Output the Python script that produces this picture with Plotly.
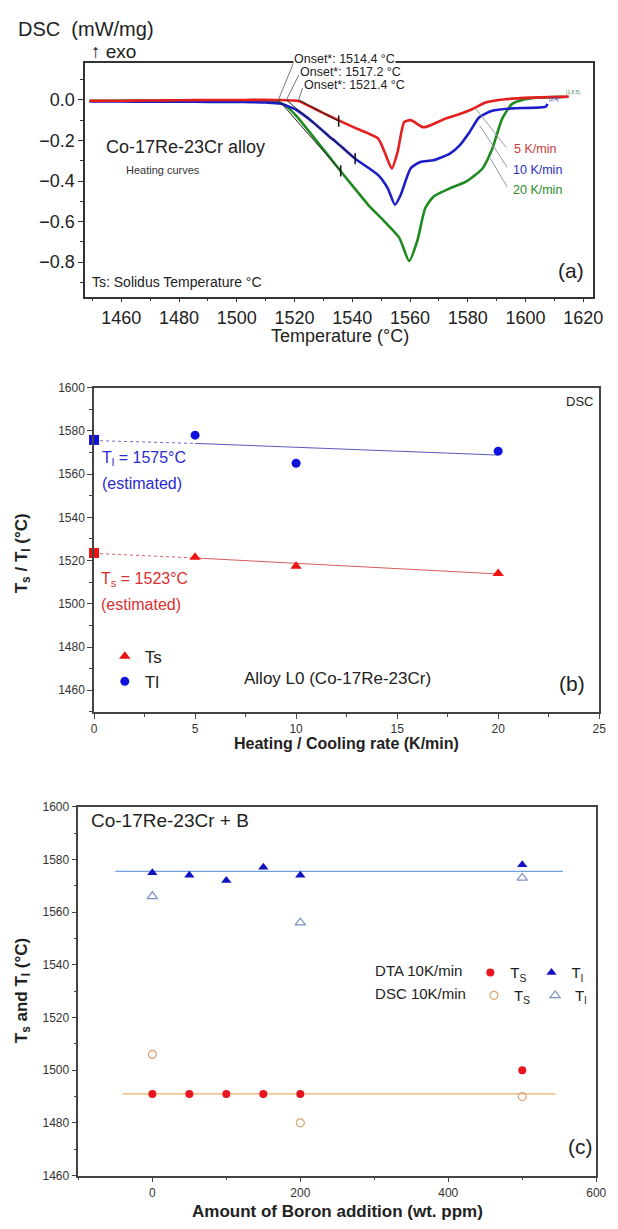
import plotly.graph_objects as go

# ---------------- data ----------------
# Panel (a): DSC heating curves
t_5 = [1449, 1460, 1470, 1480, 1490, 1500, 1505, 1510, 1515, 1519, 1521.4, 1525, 1530, 1534.2, 1540,
       1548.9, 1551.2, 1553.7, 1555.7, 1558, 1560.2, 1564.7, 1568.1, 1572.6, 1577.2, 1581.7, 1586.2,
       1593, 1602, 1615]
d_5 = [-0.005, -0.004, -0.003, -0.002, -0.001, -0.001, 0.0, 0.0, -0.001, -0.003, -0.006, -0.03, -0.065,
       -0.094, -0.132, -0.19, -0.257, -0.338, -0.257, -0.11, -0.10, -0.135, -0.119, -0.091, -0.07,
       -0.045, -0.013, 0.003, 0.011, 0.016]
t_10 = [1449, 1460, 1470, 1480, 1490, 1500, 1505, 1510, 1515, 1520.7, 1526.4, 1532, 1534.2, 1541,
        1548.9, 1552.3, 1554.8, 1556.8, 1560.2, 1563.6, 1568.1, 1573.8, 1577.2, 1580.6, 1584, 1588.5,
        1595.3, 1607.1, 1607.6]
d_10 = [-0.008, -0.008, -0.009, -0.009, -0.01, -0.01, -0.011, -0.013, -0.018, -0.05, -0.11, -0.18,
        -0.205, -0.29, -0.37, -0.436, -0.517, -0.468, -0.338, -0.306, -0.298, -0.265, -0.224, -0.159,
        -0.086, -0.054, -0.042, -0.033, -0.02]
t_20 = [1449, 1460, 1470, 1480, 1490, 1500, 1505, 1510, 1514.4, 1517, 1520.7, 1526.4, 1532, 1534.2,
        1539.9, 1545.5, 1551.2, 1556.3, 1559.7, 1562.5, 1565.3, 1568.1, 1573.8, 1579.4, 1585.1,
        1588.5, 1591.9, 1595.3, 1599.8, 1604.3, 1613.3]
d_20 = [-0.004, -0.004, -0.003, -0.003, -0.002, -0.002, -0.003, -0.006, -0.012, -0.03, -0.08, -0.18,
        -0.28, -0.32, -0.42, -0.517, -0.60, -0.68, -0.794, -0.696, -0.533, -0.477, -0.436, -0.403,
        -0.338, -0.241, -0.094, -0.021, 0.003, 0.011, 0.015]
onsets = [1514.4, 1517.2, 1521.4]           # 20, 10, 5 K/min
tan_end_t = [1536.0, 1541.0, 1535.3]         # tangent tick points (20, 10, 5 K/min)
tan_end_d = [-0.35, -0.29, -0.105]

# Panel (b): Ts / Tl vs heating rate
rate = [5, 10, 20]
ts_rate = [1521.5, 1517.4, 1514.0]
tl_rate = [1578.0, 1565.0, 1570.6]
est_rate = [0]
ts_est = [1523.5]
tl_est = [1575.8]
fit_rate = [5, 20]
ts_fit = [1521.2, 1513.8]
tl_fit = [1574.2, 1568.8]
ext_rate = [0, 5]
ts_ext = [1523.3, 1521.2]
tl_ext = [1575.5, 1574.2]

# Panel (c): Ts / Tl vs boron addition
boron_dta = [0, 50, 100, 150, 200, 500]
ts_dta = [1491, 1491, 1491, 1491, 1491, 1500]
tl_dta = [1575, 1574, 1572, 1577, 1574, 1578]
boron_dsc = [0, 200, 500]
ts_dsc = [1506, 1480, 1490]
tl_dsc = [1566, 1556, 1573]
tl_line_x = [-50, 555]
tl_line_y = [1575.5, 1575.5]
ts_line_x = [-40, 545]
ts_line_y = [1491, 1491]

# ---------------- helpers ----------------
W, H = 618, 1229
FONT = "Arial, 'Liberation Sans', sans-serif"


def fx(x):
    return x / W


def fy(y):
    return 1 - y / H


A_X = [1447.5, 1623.5]
A_Y = [-0.97, 0.18]
A_DOM_X = [84, 603]
A_DOM_Y = [57, 293]


def a_px(t):
    return A_DOM_X[0] + (t - A_X[0]) / (A_X[1] - A_X[0]) * (A_DOM_X[1] - A_DOM_X[0])


def a_py(d):
    return A_DOM_Y[0] + (A_Y[1] - d) / (A_Y[1] - A_Y[0]) * (A_DOM_Y[1] - A_DOM_Y[0])


fig = go.Figure()

RED, BLUE, GREEN = "#e3201e", "#1c1cc8", "#1f8a1f"

# ---------------- panel (a) ----------------
for t, d, c in [(t_20, d_20, GREEN), (t_10, d_10, BLUE), (t_5, d_5, RED)]:
    fig.add_trace(go.Scatter(x=t, y=d, mode="lines", line=dict(color=c, width=2.6, shape="spline", smoothing=0.6),
                             showlegend=False, xaxis="x", yaxis="y", hoverinfo="skip"))
for on, te, de in zip(onsets, tan_end_t, tan_end_d):
    fig.add_trace(go.Scatter(x=[on, te], y=[0, de], mode="lines", line=dict(color="#222", width=1),
                             showlegend=False, xaxis="x", yaxis="y", hoverinfo="skip"))
fig.add_trace(go.Scatter(x=tan_end_t, y=tan_end_d, mode="markers",
                         marker=dict(symbol="line-ns", size=8, line=dict(color="#111", width=1.5)),
                         showlegend=False, xaxis="x", yaxis="y", hoverinfo="skip"))

# ---------------- panel (b) ----------------
fig.add_trace(go.Scatter(x=ext_rate, y=tl_ext, mode="lines", line=dict(color="#6b6bd0", width=1, dash="dot"),
                         showlegend=False, xaxis="x2", yaxis="y2", cliponaxis=False))
fig.add_trace(go.Scatter(x=ext_rate, y=ts_ext, mode="lines", line=dict(color="#e06060", width=1, dash="dot"),
                         showlegend=False, xaxis="x2", yaxis="y2", cliponaxis=False))
fig.add_trace(go.Scatter(x=fit_rate, y=tl_fit, mode="lines", line=dict(color="#5a5ac0", width=1),
                         showlegend=False, xaxis="x2", yaxis="y2"))
fig.add_trace(go.Scatter(x=fit_rate, y=ts_fit, mode="lines", line=dict(color="#d85a5a", width=1),
                         showlegend=False, xaxis="x2", yaxis="y2"))
fig.add_trace(go.Scatter(x=rate, y=ts_rate, mode="markers", name="Ts",
                         marker=dict(symbol="triangle-up", size=10, color="#ee1111"),
                         legend="legend2", xaxis="x2", yaxis="y2"))
fig.add_trace(go.Scatter(x=rate, y=tl_rate, mode="markers", name="Tl",
                         marker=dict(symbol="circle", size=9, color="#1111dd"),
                         legend="legend2", xaxis="x2", yaxis="y2"))
fig.add_trace(go.Scatter(x=est_rate, y=tl_est, mode="markers", showlegend=False, cliponaxis=False,
                         marker=dict(symbol="square", size=10, color="#1111dd"), xaxis="x2", yaxis="y2"))
fig.add_trace(go.Scatter(x=est_rate, y=ts_est, mode="markers", showlegend=False, cliponaxis=False,
                         marker=dict(symbol="square", size=10, color="#ee1111"), xaxis="x2", yaxis="y2"))

# ---------------- panel (c) ----------------
fig.add_trace(go.Scatter(x=tl_line_x, y=tl_line_y, mode="lines", line=dict(color="#6e9fdc", width=1.2),
                         showlegend=False, xaxis="x3", yaxis="y3"))
fig.add_trace(go.Scatter(x=ts_line_x, y=ts_line_y, mode="lines", line=dict(color="#e8b06a", width=1.2),
                         showlegend=False, xaxis="x3", yaxis="y3"))
fig.add_trace(go.Scatter(x=boron_dta, y=ts_dta, mode="markers", name="T<sub>S</sub>",
                         marker=dict(symbol="circle", size=8, color="#e8141e"),
                         legend="legend3", xaxis="x3", yaxis="y3", cliponaxis=False))
fig.add_trace(go.Scatter(x=boron_dta, y=tl_dta, mode="markers", name="T<sub>l</sub>",
                         marker=dict(symbol="triangle-up", size=9, color="#1212c0"),
                         legend="legend3", xaxis="x3", yaxis="y3", cliponaxis=False))
fig.add_trace(go.Scatter(x=boron_dsc, y=ts_dsc, mode="markers", name="T<sub>S</sub>",
                         marker=dict(symbol="circle-open", size=8, color="#d9a273", line=dict(width=1.2)),
                         legend="legend4", xaxis="x3", yaxis="y3", cliponaxis=False))
fig.add_trace(go.Scatter(x=boron_dsc, y=tl_dsc, mode="markers", name="T<sub>l</sub>",
                         marker=dict(symbol="triangle-up-open", size=9, color="#7d8fc8", line=dict(width=1.2)),
                         legend="legend4", xaxis="x3", yaxis="y3", cliponaxis=False))

# ---------------- axes ----------------
def axis(domain, rng, anchor, tick0, dtick, minor, size, color="#222", fmt=None, lc="#333", tl=5):
    d = dict(domain=domain, range=rng, anchor=anchor, tick0=tick0, dtick=dtick,
             ticks="outside", ticklen=tl, tickwidth=1.2, tickcolor=lc,
             minor=dict(dtick=minor, ticks="outside", ticklen=3, tickcolor=lc, tickwidth=1),
             showline=True, mirror=True, linecolor=lc, linewidth=1.6,
             showgrid=False, zeroline=False, tickfont=dict(size=size, color=color, family=FONT))
    if fmt:
        d["tickformat"] = fmt
    return d


layout = dict(
    width=W, height=H, margin=dict(l=0, r=0, t=0, b=0),
    paper_bgcolor="white", plot_bgcolor="white",
    font=dict(family=FONT, color="#222"),
    showlegend=True,
    xaxis=axis([fx(84), fx(603)], A_X, "y", 1460, 20, 10, 18, tl=4),
    yaxis=axis([fy(293), fy(57)], A_Y, "x", 0, 0.2, 0.1, 18, fmt=".1f"),
    xaxis2=axis([fx(93), fx(609)], [0, 25], "y2", 0, 5, 2.5, 12, color="#333", lc="#444"),
    yaxis2=axis([fy(713), fy(385)], [1450, 1600], "x2", 1460, 20, 10, 12, color="#333", lc="#444"),
    xaxis3=axis([fx(77), fx(606)], [-100, 600], "y3", 0, 200, 100, 12, color="#333", lc="#444"),
    yaxis3=axis([fy(1182), fy(809)], [1460, 1600], "x3", 1460, 20, 10, 12, color="#333", lc="#444"),
    legend2=dict(x=fx(104), y=fy(639), xanchor="left", yanchor="top", font=dict(size=17, color="#222"),
                 bgcolor="rgba(0,0,0,0)", tracegroupgap=0),
    legend3=dict(orientation="h", x=fx(378), y=fy(977), xanchor="left", yanchor="middle",
                 title=dict(text="DTA 10K/min", side="left", font=dict(size=15, color="#222")),
                 font=dict(size=15, color="#222"), bgcolor="rgba(0,0,0,0)"),
    legend4=dict(orientation="h", x=fx(378), y=fy(1000), xanchor="left", yanchor="middle",
                 title=dict(text="DSC 10K/min", side="left", font=dict(size=15, color="#222")),
                 font=dict(size=15, color="#222"), bgcolor="rgba(0,0,0,0)"),
)
fig.update_layout(**layout)

# ---------------- annotations ----------------
ann = []


def txt(x, y, text, size, color="#222", xanchor="left", bold=False, angle=0, bg=None):
    a = dict(x=fx(x), y=fy(y), xref="paper", yref="paper", text=f"<b>{text}</b>" if bold else text,
             showarrow=False, xanchor=xanchor, yanchor="middle", textangle=angle,
             font=dict(size=size, color=color, family=FONT))
    if bg:
        a["bgcolor"] = bg
        a["borderpad"] = 0
    ann.append(a)


# panel (a)
txt(13, 22, "DSC  (mW/mg)", 20)
txt(88, 45, "↑ exo", 19)
txt(103, 142, "Co-17Re-23Cr alloy", 18)
txt(124, 165, "Heating curves", 11, color="#333")
txt(89, 278, "Ts: Solidus Temperature °C", 14)
txt(580, 267, "(a)", 21, xanchor="center")
txt(344, 333, "Temperature (°C)", 18, xanchor="center")
label_pos = [(296, 53), (301, 66), (305, 79)]
for on, (lx, ly) in zip(onsets, label_pos):
    txt(lx, ly, f"Onset*: {on} °C", 12.5, color="#222", bg="white" if ly < 60 else None)
txt(520, 144, "5 K/min", 12.5, color="#d03a3a")
txt(519, 165, "10 K/min", 12.5, color="#2b2bbf")
txt(519, 185, "20 K/min", 12.5, color="#2a8a2a")
txt(583, 86, "[1,8,5]", 5, color="#5a8a5a", xanchor="center")
txt(563, 93, "[2,4]", 5, color="#3a3acc", xanchor="center")

# panel (b)
txt(99, 457, "T<sub>l</sub> = 1575°C", 16, color="#2a2ad0")
txt(99, 482, "(estimated)", 16, color="#2a2ad0")
txt(98, 579, "T<sub>s</sub> = 1523°C", 16, color="#d83030")
txt(98, 604, "(estimated)", 16, color="#d83030")
txt(244, 679, "Alloy L0 (Co-17Re-23Cr)", 17)
txt(581, 684, "(b)", 21, xanchor="center")
txt(605, 399, "DSC", 13, xanchor="right")
txt(351, 745, "Heating / Cooling rate (K/min)", 16, xanchor="center", bold=True)
txt(20, 553, "T<sub>s</sub> / T<sub>l</sub> (°C)", 17, xanchor="center", bold=True, angle=-90)

# panel (c)
txt(88, 823, "Co-17Re-23Cr + B", 19)
txt(590, 1153, "(c)", 21, xanchor="center")
txt(342, 1218, "Amount of Boron addition (wt. ppm)", 17, xanchor="center", bold=True)
txt(20, 995, "T<sub>s</sub> and T<sub>l</sub> (°C)", 17, xanchor="center", bold=True, angle=-90)

fig.update_layout(annotations=ann)

# ---------------- leader lines (panel a) ----------------
shapes = []
for on, (lx, ly) in zip(onsets, label_pos):
    shapes.append(dict(type="line", xref="paper", yref="paper",
                       x0=fx(a_px(on)), y0=fy(a_py(0)), x1=fx(lx + 1), y1=fy(ly + 3),
                       line=dict(color="#777", width=1)))
for (x0, y0, x1, y1) in [(483, 103, 514, 142), (487, 120, 515, 162), (497, 152, 515, 182)]:
    shapes.append(dict(type="line", xref="paper", yref="paper",
                       x0=fx(x0), y0=fy(y0), x1=fx(x1), y1=fy(y1), line=dict(color="#999", width=1)))
fig.update_layout(shapes=shapes)

fig.write_html("out.html", config={"displayModeBar": False},
               post_script="document.body.style.margin='0px';document.body.style.overflow='hidden';")
